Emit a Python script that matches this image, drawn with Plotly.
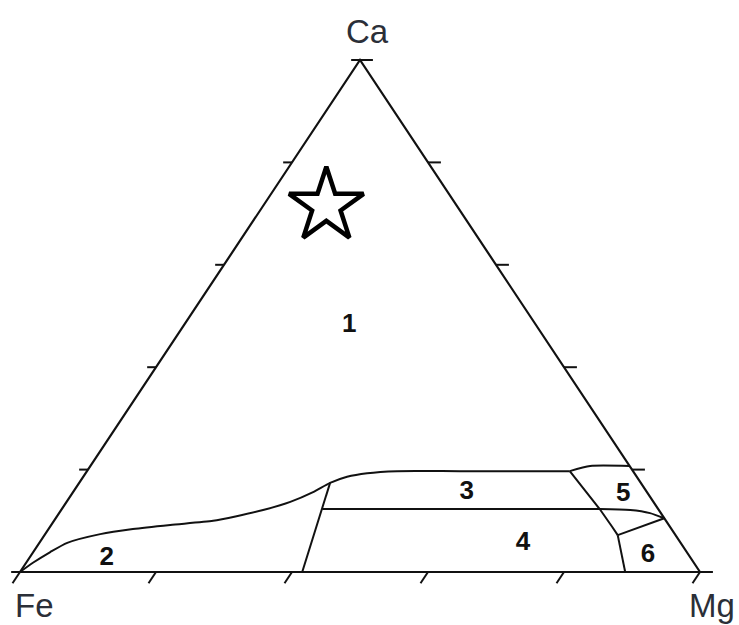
import plotly.graph_objects as go

# ternary compositions in percent (Ca, Mg); Fe = 100 - Ca - Mg
boundary_12_ca = [0, 1.8, 3.9, 5.7, 7.4, 8.4, 9.2, 10.0, 10.9, 12.1, 13.7, 15.6, 17.4, 18.6, 19.3, 19.7, 19.7, 19.7]
boundary_12_mg = [0, 1.0, 2.5, 4.1, 8.1, 12.4, 17.5, 23.4, 26.4, 29.7, 32.9, 35.3, 36.9, 38.8, 41.4, 45.6, 54.8, 71.0]

boundary_15_ca = [19.7, 20.7, 20.7]
boundary_15_mg = [71.0, 73.5, 79.3]

boundary_24_ca = [17.4, 0]
boundary_24_mg = [36.9, 41.5]

boundary_34_ca = [12.3, 12.3, 12.1, 11.5, 10.5]
boundary_34_mg = [38.3, 79.1, 83.7, 86.9, 89.5]

boundary_35_ca = [19.7, 12.3, 8.8, 7.2]
boundary_35_mg = [71.0, 79.1, 82.7, 84.3]

boundary_46_ca = [7.2, 4.3, 0]
boundary_46_mg = [84.3, 86.2, 89.0]

boundary_56_ca = [7.2, 10.5]
boundary_56_mg = [84.3, 89.5]

field_labels = ["1", "2", "3", "4", "5", "6"]
field_ca = [48.2, 2.7, 15.6, 5.5, 15.2, 3.3]
field_mg = [24.3, 11.4, 57.9, 71.2, 81.1, 90.7]

sample_ca = [71.5]
sample_mg = [9.3]

tick_values = [0, 20, 40, 60, 80, 100]


def to_xy(ca, mg):
    # triangle: Fe (0,0), Mg (1,0), Ca (0.5,1)
    xs = [m / 100 + c / 200 for c, m in zip(ca, mg)]
    ys = [c / 100 for c in ca]
    return xs, ys


fig = go.Figure()

# triangle outline
ox, oy = to_xy([0, 0, 100, 0], [0, 100, 0, 0])
fig.add_trace(go.Scatter(x=ox, y=oy, mode="lines",
                         line=dict(color="#111", width=2.2), hoverinfo="skip"))

# ticks pointing outwards along grid directions
tca, tmg = [], []
for v in tick_values:
    # left side (Mg = 0): horizontal to the left
    tca += [v, v, None]
    tmg += [0, -1.3, None]
    # right side (Fe = 0): horizontal to the right
    tca += [v, v, None]
    tmg += [100 - v, 100 - v + 1.9, None]
    # bottom side (Ca = 0): along constant Mg, downward
    tca += [0, -2.2, None]
    tmg += [v, v, None]
tx, ty = [], []
for c, m in zip(tca, tmg):
    if c is None:
        tx.append(None)
        ty.append(None)
    else:
        x, y = to_xy([c], [m])
        tx.append(x[0])
        ty.append(y[0])
fig.add_trace(go.Scatter(x=tx, y=ty, mode="lines",
                         line=dict(color="#111", width=2), hoverinfo="skip"))

# field boundaries
bounds = [
    (boundary_12_ca, boundary_12_mg, "spline"),
    (boundary_15_ca, boundary_15_mg, "spline"),
    (boundary_24_ca, boundary_24_mg, "linear"),
    (boundary_34_ca, boundary_34_mg, "spline"),
    (boundary_35_ca, boundary_35_mg, "linear"),
    (boundary_46_ca, boundary_46_mg, "linear"),
    (boundary_56_ca, boundary_56_mg, "linear"),
]
for ca, mg, shape in bounds:
    bx, by = to_xy(ca, mg)
    fig.add_trace(go.Scatter(x=bx, y=by, mode="lines",
                             line=dict(color="#111", width=2, shape=shape, smoothing=0.6),
                             hoverinfo="skip"))

# field numbers
lx, ly = to_xy(field_ca, field_mg)
fig.add_trace(go.Scatter(x=lx, y=ly, mode="text", text=field_labels,
                         textfont=dict(family="Liberation Sans", size=26, color="#111", weight="bold"),
                         hoverinfo="skip"))

# sample star
sx, sy = to_xy(sample_ca, sample_mg)
fig.add_trace(go.Scatter(x=sx, y=sy, mode="markers",
                         marker=dict(symbol="star-open", size=56, color="#000",
                                     line=dict(color="#000", width=4.5)),
                         hoverinfo="skip"))

# vertex labels
vx, vy = to_xy([100, 0, 0], [0, 0, 100])
for name, x, y, dx, dy in [("Ca", vx[0], vy[0], 7, 29), ("Fe", vx[1], vy[1], 14, -33),
                           ("Mg", vx[2], vy[2], 12, -33)]:
    fig.add_annotation(x=x, y=y, xref="x", yref="y", text=name, showarrow=False,
                       xshift=dx, yshift=dy,
                       font=dict(family="Liberation Sans", size=33, color="#2b2f38"))

fig.update_layout(
    width=739, height=625,
    margin=dict(l=0, r=0, t=0, b=0),
    paper_bgcolor="white", plot_bgcolor="white",
    showlegend=False,
    xaxis=dict(range=[-20 / 680, 719 / 680], visible=False, fixedrange=True),
    yaxis=dict(range=[-53 / 512, 572 / 512], visible=False, fixedrange=True),
)

# drop the default page margin so the figure fills the window
fig.write_html("out.html", config={"displayModeBar": False},
               post_script="document.body.style.margin='0';")
